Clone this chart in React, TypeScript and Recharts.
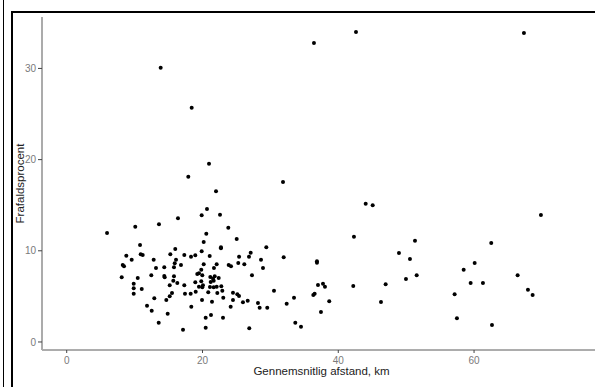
import { ScatterChart, Scatter, XAxis, YAxis } from 'recharts';

// Gennemsnitlig afstand (km) og frafaldsprocent, aflæst punkt for punkt
const distanceKm = [
  20.96, 17.91, 21.99, 20.66, 19.88, 22.58, 16.39, 10.1, 13.59, 23.8,
  5.94, 20.56, 25.04, 20.18, 10.8, 22.72, 22.72, 29.4, 15.99, 19.88,
  27.1, 15.26, 10.9, 11.19, 8.78, 17.32, 18.31, 18.94, 21.06, 25.39,
  26.85, 12.81, 9.57, 16.1, 28.62, 31.96, 8.25, 8.44, 15.91, 16.83,
  15.8, 20.18, 22.09, 23.86, 24.2, 25.27, 26.16, 13.15, 14.37, 19.82,
  21.69, 28.91, 19.23, 19.48, 19.97, 12.46, 14.37, 14.43, 15.8, 8.1,
  10.46, 21.15, 21.8, 22.39, 21.55, 27.29, 15.7, 16.29, 18.94, 19.82,
  21.21, 21.65, 9.87, 15.17, 17.32, 19.48, 20.07, 19.97, 21.1, 21.65,
  22.09, 22.77, 9.87, 11.05, 22.92, 19.0, 15.51, 17.42, 18.26, 20.85,
  22.18, 24.49, 25.13, 25.38, 9.87, 15.17, 23.06, 30.53, 33.48, 12.9,
  14.67, 19.93, 21.4, 24.49, 25.96, 26.66, 28.17, 32.4, 11.83, 18.35,
  24.15, 28.42, 29.54, 12.52, 14.87, 21.25, 20.47, 23.02, 13.55, 33.67,
  17.13, 20.47, 26.89, 31.86,
  44.04, 45.07, 42.31, 51.3, 62.53, 48.94, 36.86, 36.86, 50.56, 60.09,
  58.47, 66.42, 51.55, 49.97, 59.5, 61.31, 37.01, 37.75, 38.04, 42.21,
  46.98, 67.94, 36.32, 36.52, 57.14, 38.67, 46.29, 37.45, 57.48, 34.51,
  62.64,
  13.84, 18.41, 67.35, 36.42, 42.61, 69.85, 68.63,
];

const dropoutPct = [
  19.55, 18.13, 16.52, 14.58, 13.89, 13.96, 13.56, 12.64, 12.91, 12.53,
  11.95, 11.87, 11.29, 10.96, 10.64, 10.38, 10.27, 10.38, 10.2, 9.95,
  9.79, 9.62, 9.62, 9.54, 9.46, 9.54, 9.35, 9.51, 9.43, 9.35,
  9.35, 9.02, 9.02, 9.02, 9.02, 9.29, 8.44, 8.3, 8.63, 8.44,
  8.19, 8.52, 8.52, 8.44, 8.3, 8.66, 8.52, 8.11, 8.19, 7.93,
  8.11, 8.11, 7.46, 7.53, 7.31, 7.31, 7.24, 7.09, 7.2, 7.09,
  7.02, 7.13, 7.2, 7.02, 6.94, 7.31, 6.72, 6.47, 6.55, 6.66,
  6.58, 6.72, 6.39, 6.22, 6.22, 6.06, 6.22, 6.0, 6.03, 6.0,
  6.06, 6.11, 5.89, 5.81, 5.63, 5.52, 5.37, 5.3, 5.3, 5.45,
  5.37, 5.41, 5.23, 5.04, 5.3, 5.01, 4.86, 5.63, 4.86, 4.79,
  4.61, 4.61, 4.42, 4.61, 4.35, 4.53, 4.28, 4.2, 3.98, 3.87,
  3.87, 3.76, 3.76, 3.43, 3.1, 2.96, 2.66, 2.66, 2.12, 2.12,
  1.35, 1.57, 1.5, 17.54,
  15.16, 14.99, 11.55, 11.11, 10.86, 9.76, 8.85, 8.7, 9.1, 8.66,
  7.93, 7.31, 7.31, 6.91, 6.47, 6.47, 6.25, 6.39, 6.06, 6.14,
  6.33, 5.73, 5.15, 5.3, 5.23, 4.46, 4.39, 3.29, 2.6, 1.68,
  1.86,
  30.08, 25.69, 33.88, 32.79, 33.99, 13.93, 5.15,
];

const xTicks = [0, 20, 40, 60];
const yTicks = [0, 10, 20, 30];

const data = distanceKm.map((d, i) => ({ afstand: d, frafald: dropoutPct[i] }));

const FONT = "'Liberation Sans Narrow', 'Arial Narrow', 'Liberation Sans', Arial, sans-serif";

const Dot = (props: any) => <circle cx={props.cx} cy={props.cy} r={2} fill="#000" />;

export default function App() {
  return (
    <div
      style={{
        position: 'absolute',
        left: 0,
        top: 0,
        width: 595,
        height: 387,
        overflow: 'hidden',
        background: '#fff',
      }}
    >
      {/* ramme rundt om figuren */}
      <div style={{ position: 'absolute', left: 3, top: 0, width: 1, height: 387, background: '#000' }} />
      <div
        style={{
          position: 'absolute',
          left: 11,
          top: 11,
          width: 640,
          height: 420,
          borderLeft: '2px solid #000',
          borderTop: '2px solid #000',
        }}
      />
      <div style={{ position: 'absolute', left: 0, top: 0 }}>
        <ScatterChart width={610} height={387} margin={{ top: 17, right: 9, bottom: 0, left: 0 }}>
          <XAxis
            type="number"
            dataKey="afstand"
            domain={[-3.64, 78.7]}
            ticks={xTicks}
            allowDataOverflow
            height={37}
            tickSize={3}
            tickMargin={4}
            axisLine={{ stroke: '#5a5a5a', strokeWidth: 1 }}
            tickLine={{ stroke: '#444' }}
            tick={{ fill: '#7a7a7a', fontSize: 10, fontFamily: FONT }}
            label={{
              value: 'Gennemsnitlig afstand, km',
              position: 'insideBottom',
              offset: 12,
              fill: '#222',
              fontSize: 11.5,
              fontFamily: FONT,
            }}
          />
          <YAxis
            type="number"
            dataKey="frafald"
            domain={[-0.88, 35.64]}
            ticks={yTicks}
            allowDataOverflow
            width={42}
            tickSize={4}
            tickMargin={2}
            axisLine={{ stroke: '#ababab', strokeWidth: 2 }}
            tickLine={{ stroke: '#444' }}
            tick={{ fill: '#7a7a7a', fontSize: 10, fontFamily: FONT }}
            label={{
              value: 'Frafaldsprocent',
              angle: -90,
              position: 'center',
              dx: -1,
              fill: '#222',
              fontSize: 11.5,
              fontFamily: FONT,
            }}
          />
          <Scatter data={data} shape={Dot} isAnimationActive={false} />
        </ScatterChart>
      </div>
    </div>
  );
}
